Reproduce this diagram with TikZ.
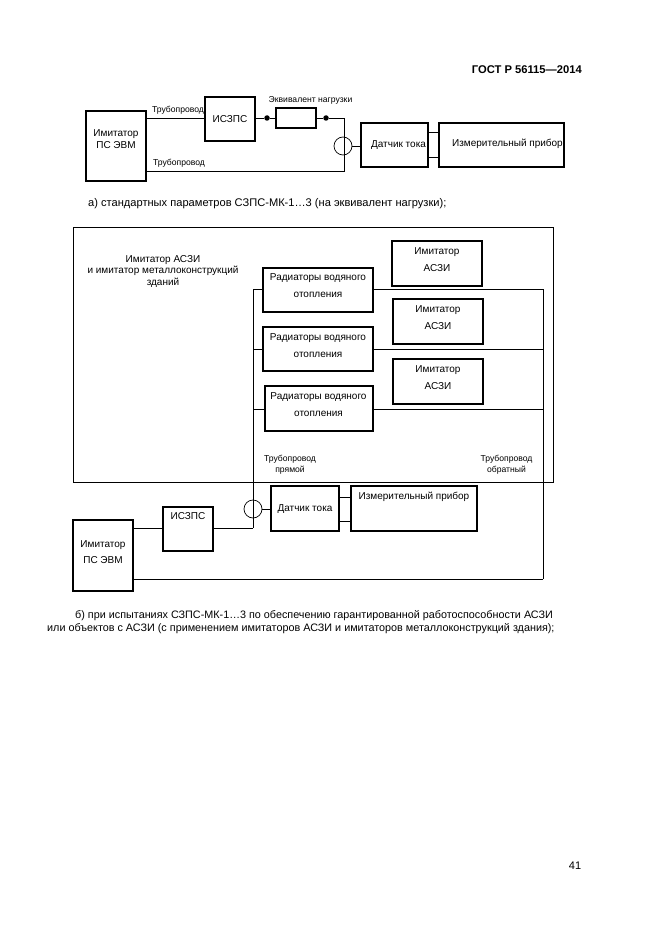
\documentclass[tikz,border=0pt]{standalone}
\usepackage{fontspec}
\setmainfont{Liberation Sans}
\tikzset{
	bx/.style={draw,line width=1.8pt,inner sep=0pt,fill=white,align=center,font=\fontsize{10}{12}\selectfont},
	wire/.style={line width=0.7pt},
	txt/.style={inner sep=0pt,align=center,font=\fontsize{10}{12}\selectfont},
	smalltxt/.style={inner sep=0pt,align=center,font=\fontsize{8.6}{11}\selectfont},
	captiontxt/.style={inner sep=0pt,anchor=west,font=\fontsize{10.8}{13}\selectfont},
	dot/.style={circle,fill=black,inner sep=0pt,minimum size=5.5pt},
	ring/.style={circle,draw,line width=0.7pt,inner sep=0pt,minimum size=18pt}
}
\begin{document}
\begin{tikzpicture}[x=1pt,y=-1pt]
	\useasboundingbox (0,0) rectangle (661,936);
	\node[inner sep=0pt,anchor=east,font=\fontsize{11.2}{13}\selectfont\bfseries] (gost) at (582,70) {ГОСТ Р 56115—2014};
	\node[inner sep=0pt,font=\fontsize{11}{13}\selectfont] (pagenum) at (575,866) {41};

	% a) upper scheme
	\node[bx,minimum width=60pt,minimum height=70pt] (pca) at (116,146) {};
	\node[txt] (pcatext) at (116,139) {Имитатор\\ПС ЭВМ};
	\node[bx,minimum width=50pt,minimum height=44pt] (iszpsa) at (230,119) {ИСЗПС};
	\node[bx,line width=1.3pt,minimum width=40pt,minimum height=20pt] (load) at (296,118) {};
	\node[dot] (dotl) at (267,118) {};
	\node[dot] (dotr) at (326,118) {};
	\coordinate (corner) at (344,118);
	\coordinate (cornerb) at (344,171);
	\node[ring] (ringa) at (343,146) {};
	\node[bx,minimum width=67pt,minimum height=44pt] (sensa) at (394.5,145) {};
	\node[txt] (sensatext) at (398.5,145.5) {Датчик тока};
	\node[bx,minimum width=125pt,minimum height=44pt] (metera) at (501.5,145) {};
	\node[txt] (meteratext) at (507.5,143.5) {Измерительный прибор};
	\node[smalltxt] (pipea) at (178,110) {Трубопровод};
	\node[smalltxt] (pipeb) at (179,163.5) {Трубопровод};
	\node[smalltxt] (loadtext) at (310.5,100) {Эквивалент нагрузки};
	\draw[wire] (pca.east |- load) -- (iszpsa.west |- load);
	\draw[wire] (iszpsa.east |- load) -- (dotl) -- (load);
	\draw[wire] (load) -- (dotr) -- (corner) -- (cornerb) -- (pca.east |- cornerb);
	\draw[wire] (ringa) -- (sensa.west |- ringa);
	\draw[wire] (sensa.east |- 0,132) -- (metera.west |- 0,132);
	\draw[wire] (sensa.east |- 0,157) -- (metera.west |- 0,157);
	\node[captiontxt,font=\fontsize{11.1}{13}\selectfont] (capa) at (88,203.5) {а) стандартных параметров СЗПС-МК-1…3 (на эквивалент нагрузки);};

	% b) lower scheme
	\draw[wire,line width=0.9pt] (73,227) rectangle (553,482);
	\node[txt] (bigtext) at (163,271.5) {Имитатор АСЗИ\\[-0.5pt]и имитатор металлоконструкций\\[-0.5pt]зданий};
	\coordinate (risetop) at (253,289);
	\coordinate (risebot) at (253,528);
	\coordinate (rettop) at (543,289);
	\coordinate (retbot) at (543,579);
	\node[bx,minimum width=110pt,minimum height=44pt] (rada) at (318,290) {};
	\node[bx,minimum width=110pt,minimum height=44pt] (radb) at (318,349) {};
	\node[bx,minimum width=108pt,minimum height=45pt] (radc) at (319,408.5) {};
	\node[txt] (radatext) at (318,286) {Радиаторы водяного\\[5pt]отопления};
	\node[txt] (radbtext) at (318,345.5) {Радиаторы водяного\\[5pt]отопления};
	\node[txt] (radctext) at (318.5,404.5) {Радиаторы водяного\\[5pt]отопления};
	\node[bx,minimum width=90pt,minimum height=45pt] (asa) at (437,263.5) {};
	\node[bx,minimum width=90pt,minimum height=45pt] (asb) at (438,321.5) {};
	\node[bx,minimum width=90pt,minimum height=45pt] (asc) at (438,381.5) {};
	\node[txt] (asatext) at (437,260) {Имитатор\\[5pt]АСЗИ};
	\node[txt] (asbtext) at (438,318) {Имитатор\\[5pt]АСЗИ};
	\node[txt] (asctext) at (438,378) {Имитатор\\[5pt]АСЗИ};
	\draw[wire] (risetop) -- (risebot);
	\draw[wire] (rettop) -- (retbot);
	\foreach \r/\y in {rada/289,radb/349,radc/409} {
		\draw[wire] (253,\y) -- (\r.west |- 0,\y);
		\draw[wire] (\r.east |- 0,\y) -- (543,\y);
	}
	\node[smalltxt] (pipedir) at (290,465) {Трубопровод\\прямой};
	\node[smalltxt] (piperet) at (506.5,465) {Трубопровод\\обратный};
	\node[bx,minimum width=60pt,minimum height=71pt] (pcb) at (103,555.5) {};
	\node[txt] (pcbtext) at (103,552.5) {Имитатор\\[4pt]ПС ЭВМ};
	\node[bx,minimum width=50pt,minimum height=44pt] (iszpsb) at (188,529) {};
	\node[txt] (iszpsbtext) at (188,516) {ИСЗПС};
	\node[ring] (ringb) at (253,509) {};
	\node[bx,minimum width=68pt,minimum height=45pt] (sensb) at (305,508.5) {};
	\node[txt] (sensbtext) at (305,509.5) {Датчик тока};
	\node[bx,minimum width=126pt,minimum height=45pt] (meterb) at (414,508.5) {};
	\node[txt] (meterbtext) at (414,496.5) {Измерительный прибор};
	\draw[wire] (pcb.east |- risebot) -- (iszpsb.west |- risebot);
	\draw[wire] (iszpsb.east |- risebot) -- (risebot);
	\draw[wire] (ringb) -- (sensb.west |- ringb);
	\draw[wire] (sensb.east |- 0,497) -- (meterb.west |- 0,497);
	\draw[wire] (sensb.east |- 0,521) -- (meterb.west |- 0,521);
	\draw[wire] (pcb.east |- retbot) -- (retbot);
	\node[captiontxt] (capb) at (75,616) {б) при испытаниях СЗПС-МК-1…3 по обеспечению гарантированной работоспособности АСЗИ};
	\node[captiontxt] (capc) at (47,629) {или объектов с АСЗИ (с применением имитаторов АСЗИ и имитаторов металлоконструкций здания);};
\end{tikzpicture}
\end{document}
